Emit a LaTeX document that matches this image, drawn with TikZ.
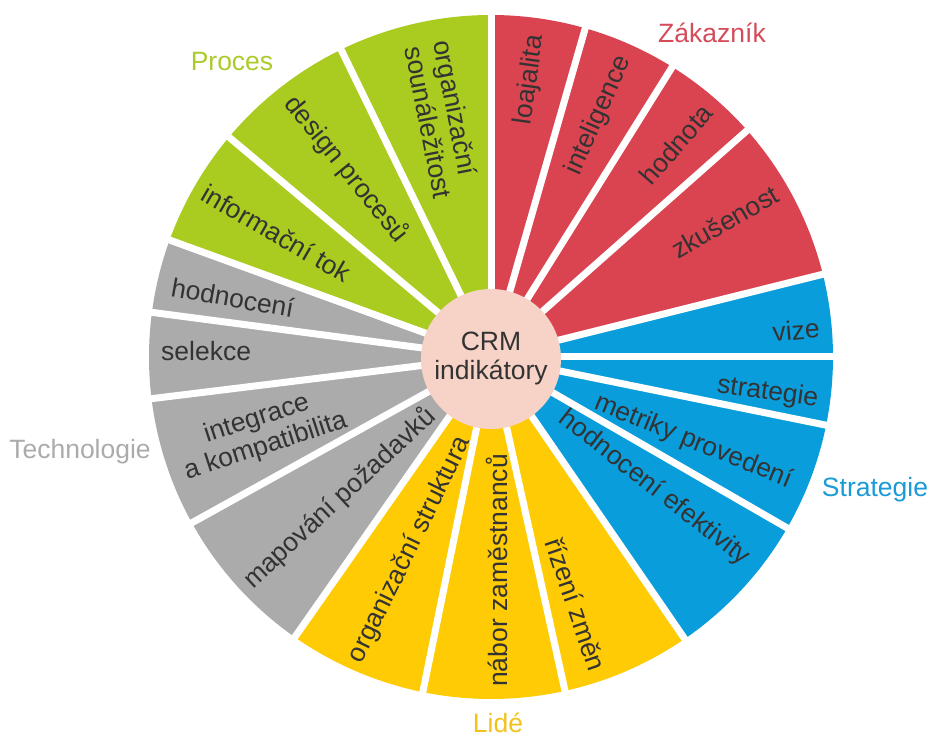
\documentclass[tikz,border=0pt]{standalone}
\usepackage{fontspec}
\setmainfont{Liberation Sans}
\definecolor{custred}{HTML}{DA4450}
\definecolor{stratblue}{HTML}{0A9DDB}
\definecolor{peoplegold}{HTML}{FFCB05}
\definecolor{techgray}{HTML}{ABABAB}
\definecolor{procgreen}{HTML}{AACB1F}
\definecolor{hubpeach}{HTML}{F6D3C6}
\definecolor{txt}{HTML}{333333}
\definecolor{custredtext}{HTML}{D44B5A}
\definecolor{stratbluetext}{HTML}{1A9AD6}
\definecolor{peoplegoldtext}{HTML}{F2C21A}
\definecolor{techgraytext}{HTML}{ABABAB}
\definecolor{procgreentext}{HTML}{AACB2A}
\begin{document}
\begin{tikzpicture}[x=1pt,y=1pt,
  font=\fontsize{26.5}{29}\selectfont,
  lbl/.style={text=txt, inner sep=0pt},
  cat/.style={inner sep=0pt},
  gap/.style={white, line width=7pt}]
\useasboundingbox (-491,-381) rectangle (443,357);

% coloured wedges, clockwise from twelve o'clock
\foreach \a/\b/\c in {
  90/74/custred, 74/58/custred, 58/41.5/custred, 41.5/14/custred,
  14/0/stratblue, 0/-11.5/stratblue, -11.5/-30/stratblue, -30/-55.5/stratblue,
  -55.5/-77.5/peoplegold, -77.5/-101.5/peoplegold, -101.5/-125/peoplegold,
  -125/-151/techgray, -151/-173/techgray, -173/-187.5/techgray, -187.5/-200/techgray,
  -200/-220/procgreen, -220/-244/procgreen, -244/-270/procgreen}
  \fill[\c] (0,0) -- (\a:342) arc[start angle=\a, end angle=\b, radius=342] -- cycle;

% white separators between the wedges
\foreach \a in {90,74,58,41.5,14,0,-11.5,-30,-55.5,-77.5,-101.5,-125,-151,-173,-187.5,-200,-220,-244}
  \draw[gap] (0,0) -- (\a:352);

% hub
\node[circle, fill=hubpeach, minimum size=140, inner sep=0pt, text=txt, align=center] (hub) at (0,-2) {CRM\\indikátory};

% Zákazník
\node[lbl, rotate=82, anchor=east] (loaj) at (82:325) {loajalita};
\node[lbl, rotate=66, anchor=east] (intel) at (66:328) {inteligence};
\node[lbl, rotate=49, anchor=east] (hodn) at (49:330) {hodnota};
\node[lbl, rotate=30, anchor=east] (zkus) at (30:330) {zkušenost};

% Strategie
\node[lbl, rotate=5, anchor=east] (vize) at (5:330) {vize};
\node[lbl, rotate=-8, anchor=east] (strat) at (-7.5:330) {strategie};
\node[lbl, rotate=-22, anchor=east] (metr) at (-22.5:325) {metriky provedení};
\node[lbl, rotate=-38, anchor=east] (efekt) at (-38.5:327) {hodnocení efektivity};

% Lidé
\node[lbl, rotate=-71, anchor=east] (rizeni) at (-71:331) {řízení změn};
\node[lbl, rotate=90, anchor=west] (nabor) at (-89:330) {nábor zaměstnanců};
\node[lbl, rotate=64, anchor=west] (orgstr) at (-114:333) {organizační struktura};

% Technologie
\node[lbl, rotate=43, anchor=west] (mapov) at (-137:333) {mapování požadavků};
\node[lbl, rotate=18, align=center] (integr) at (198.3:242) {integrace\\a kompatibilita};
\node[lbl, rotate=0, anchor=west] (selek) at (179:330) {selekce};
\node[lbl, rotate=-10, anchor=west] (hodnoc) at (167.6:327) {hodnocení};

% Proces
\node[lbl, rotate=-30, anchor=west] (infotok) at (150:331) {informační tok};
\node[lbl, rotate=-51, anchor=west] (design) at (128:327) {design procesů};
\node[lbl, rotate=-79, anchor=west, align=left] (orgsoun) at (101.3:320) {organizační\\sounáležitost};

% group captions
\node[cat, text=custredtext] (capzak) at (221,324) {Zákazník};
\node[cat, text=procgreentext] (capproc) at (-259,295) {Proces};
\node[cat, text=techgraytext] (captech) at (-411,-95) {Technologie};
\node[cat, text=stratbluetext] (capstrat) at (384,-133) {Strategie};
\node[cat, text=peoplegoldtext] (caplide) at (7,-366) {Lidé};
\end{tikzpicture}
\end{document}
